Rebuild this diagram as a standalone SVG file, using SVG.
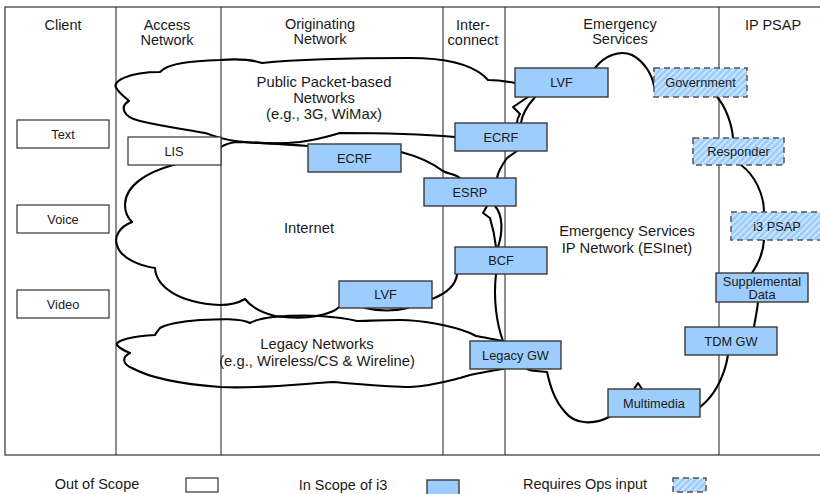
<svg xmlns="http://www.w3.org/2000/svg" width="820" height="494" viewBox="0 0 820 494">
<defs>
<pattern id="hatch" patternUnits="userSpaceOnUse" width="4.5" height="4.5" patternTransform="rotate(45)">
<rect width="4.5" height="4.5" fill="#9dcdfc"/>
<line x1="0.8" y1="0" x2="0.8" y2="4.5" stroke="#ffffff" stroke-width="1.2" stroke-opacity="0.75"/>
</pattern>
<style>
text{font-family:"Liberation Sans",Arial,sans-serif;fill:#1a1a1a;text-anchor:middle}
.hdr{font-size:14.5px}
.cl{font-size:14.8px}
.bl{font-size:12.8px}
.lg{font-size:14.5px}
.frame{fill:none;stroke:#333;stroke-width:1.2}
.col{stroke:#333;stroke-width:1.1}
.out{fill:#fff;stroke:#333;stroke-width:1.2}
.in{fill:#9dcdfc;stroke:#3a3a3a;stroke-width:1.4}
.ops{fill:url(#hatch);stroke:#555;stroke-width:1.5;stroke-dasharray:6 4}
.cloud{fill:none;stroke:#000;stroke-width:2.1;stroke-linejoin:round;stroke-linecap:round}
</style>
</defs>
<rect width="820" height="494" fill="#fff"/>

<g id="frame">
<rect class="frame" x="5" y="7" width="830" height="448"/>
<line class="col" x1="116" y1="7" x2="116" y2="455"/>
<line class="col" x1="221" y1="7" x2="221" y2="455"/>
<line class="col" x1="443" y1="7" x2="443" y2="455"/>
<line class="col" x1="505" y1="7" x2="505" y2="455"/>
<line class="col" x1="719" y1="7" x2="719" y2="455"/>
</g>

<g id="headers">
<text class="hdr" x="63" y="30">Client</text>
<text class="hdr" x="167" y="30">Access</text>
<text class="hdr" x="167" y="45">Network</text>
<text class="hdr" x="320" y="29">Originating</text>
<text class="hdr" x="320" y="44">Network</text>
<text class="hdr" x="473" y="30">Inter-</text>
<text class="hdr" x="473" y="45">connect</text>
<text class="hdr" x="620" y="29">Emergency</text>
<text class="hdr" x="620" y="44">Services</text>
<text class="hdr" x="773" y="30">IP PSAP</text>
</g>

<g id="connectors">
<!-- Public packet-based cloud -->
<path class="cloud" d="M515,83 C505,81 495,80 488,80 L484,76 C470,64 445,58 410,58 C370,58 300,59 262,63 C250,59 232,59 220,60 C192,61 168,63 160,72 C128,72 110,82 117,89 C120,94 125,97 129,101 C120,106 122,117 140,121 C165,127 190,130 205,133 C215,136 225,141 245,142 C270,144 290,143 300,142 C315,140 330,136 340,133 C380,133 420,134 455,137"/>
<!-- Internet cloud -->
<path class="cloud" d="M308,146 C280,144 250,142 236,142 C228,143 224,145 221,147 L205,155 C190,160 180,162 173,165 C148,172 125,185 125,205 C125,213 128,218 132,222 C119,227 114,237 117,245 C120,258 140,266 155,268 C156,285 176,303 220,305 C232,305 240,302 245,299 C252,308 262,313 275,316 C290,318 300,318 310,317 C325,315 335,311 339,307"/>
<path class="cloud" d="M401,152 C420,157 435,165 443,171 C448,174 455,174 460,178"/>
<path class="cloud" d="M365,308 C378,311 395,311 408,308"/>
<path class="cloud" d="M432,299 C445,294 455,287 457,275"/>
<path class="cloud" d="M487,206 L483,213 L490,218 C493,228 495,238 496,247"/>
<path class="cloud" d="M495,206 C503,215 503,232 498,247"/>
<!-- Legacy cloud -->
<path class="cloud" d="M503,341 C492,339 482,337 476,336 L470,333 C450,325 420,320 400,320 C380,320 366,321 357,321 C345,318 335,317 320,316 C300,315 285,316 273,317 C263,318 256,320 250,323 C240,318 220,319 200,320 C180,321 165,325 160,328 C158,331 156,333 155,335 C135,336 115,340 117,345 C120,349 125,351 130,353 C122,357 122,364 132,368 C150,378 180,384 220,387 C260,389 300,384 333,382 C360,384 390,387 410,387 C430,386 448,381 460,378 L470,375 C485,372 495,370 503,369"/>
<!-- ESInet cloud -->
<path class="cloud" d="M595,68 C605,55 620,50 632,55 C645,62 652,75 654,86"/>
<path class="cloud" d="M717,97 C726,107 732,125 733,138"/>
<path class="cloud" d="M741,165 C755,175 764,195 764,212"/>
<path class="cloud" d="M764,240 C763,255 757,265 752,273"/>
<path class="cloud" d="M758,302 C757,312 755,320 754,327"/>
<path class="cloud" d="M728,355 C724,380 712,398 700,407"/>
<path class="cloud" d="M611,416 C595,425 575,425 565,412 C554,400 550,385 547,372 L536,371 C532,371 529,370 527,369"/>
<path class="cloud" d="M634,389 L638,383 L642,389"/>
<path class="cloud" d="M496,274 C493,300 497,325 503,341"/>
<path class="cloud" d="M517,151 L507,158 C502,165 498,172 497,178"/>
<path class="cloud" d="M535,97 C528,105 522,113 521,123"/>
<path class="cloud" d="M528,97 L513,107 L520,114 C518,117 517,120 517,123"/>
</g>

<g id="cloud-labels">
<text class="cl" x="324" y="87">Public Packet-based</text>
<text class="cl" x="324" y="103">Networks</text>
<text class="cl" x="324" y="119">(e.g., 3G, WiMax)</text>
<text class="cl" x="309" y="233">Internet</text>
<text class="cl" x="627" y="236">Emergency Services</text>
<text class="cl" x="627" y="252.5">IP Network (ESInet)</text>
<text class="cl" x="317" y="349">Legacy Networks</text>
<text class="cl" x="317" y="365.5">(e.g., Wireless/CS &amp; Wireline)</text>
</g>

<g id="client-text"><rect class="out" x="17" y="120" width="92" height="28"/><text class="bl" x="63" y="138.5">Text</text></g>
<g id="client-voice"><rect class="out" x="17" y="205" width="92" height="28"/><text class="bl" x="63" y="223.5">Voice</text></g>
<g id="client-video"><rect class="out" x="17" y="290" width="92" height="28"/><text class="bl" x="63" y="308.5">Video</text></g>
<g id="lis"><rect class="out" x="128" y="137" width="93" height="28"/><text class="bl" x="174" y="155.5">LIS</text></g>

<g id="ecrf-orig"><rect class="in" x="308" y="144" width="93" height="28"/><text class="bl" x="354.5" y="162.5">ECRF</text></g>
<g id="lvf-orig"><rect class="in" x="339" y="281" width="93" height="27"/><text class="bl" x="385.5" y="299">LVF</text></g>
<g id="ecrf-inter"><rect class="in" x="455" y="123" width="92" height="28"/><text class="bl" x="501" y="141.5">ECRF</text></g>
<g id="esrp"><rect class="in" x="424" y="178" width="92" height="28"/><text class="bl" x="470" y="196.5">ESRP</text></g>
<g id="bcf"><rect class="in" x="455" y="247" width="92" height="27"/><text class="bl" x="501" y="265">BCF</text></g>
<g id="legacy-gw"><rect class="in" x="470" y="341" width="91" height="28"/><text class="bl" x="515.5" y="359.5">Legacy GW</text></g>
<g id="lvf-es"><rect class="in" x="515" y="68" width="93" height="29"/><text class="bl" x="561.5" y="87">LVF</text></g>
<g id="multimedia"><rect class="in" x="608" y="389" width="92" height="28"/><text class="bl" x="654" y="407.5">Multimedia</text></g>
<g id="government"><rect class="ops" x="654" y="68" width="93" height="29"/><text class="bl" x="700.5" y="87">Government</text></g>
<g id="responder"><rect class="ops" x="693" y="138" width="91" height="27"/><text class="bl" x="738.5" y="156">Responder</text></g>
<g id="i3-psap"><rect class="ops" x="731" y="212" width="92" height="28"/><text class="bl" x="777" y="230.5">i3 PSAP</text></g>
<g id="supplemental"><rect class="in" x="716" y="273" width="92" height="29"/><text class="bl" x="762" y="285.5">Supplemental</text><text class="bl" x="762" y="299">Data</text></g>
<g id="tdm-gw"><rect class="in" x="685" y="327" width="92" height="28"/><text class="bl" x="731" y="345.5">TDM GW</text></g>

<g id="legend">
<text class="lg" x="97" y="489">Out of Scope</text>
<rect class="out" x="186" y="478" width="32" height="14"/>
<text class="lg" x="343" y="490">In Scope of i3</text>
<rect class="in" x="427" y="480" width="32" height="16"/>
<text class="lg" x="585" y="489">Requires Ops input</text>
<rect class="ops" x="673" y="478" width="33" height="14"/>
</g>
</svg>
